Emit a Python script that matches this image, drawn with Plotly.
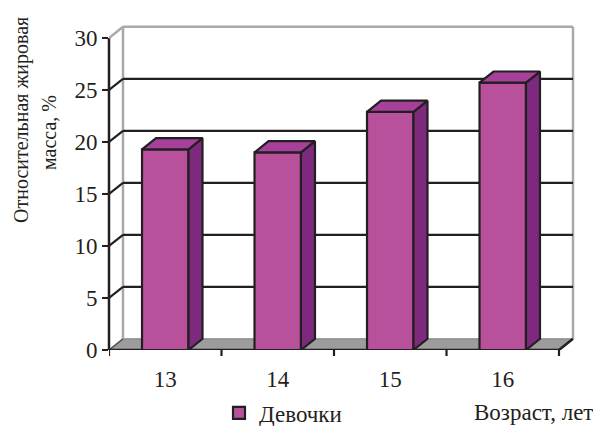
import numpy as np
import plotly.graph_objects as go

# ---------------- data ----------------
categories = ["13", "14", "15", "16"]
values = [19.3, 19.0, 22.9, 25.7]
series_name = "Девочки"
y_ticks = [0, 5, 10, 15, 20, 25, 30]
y_title_line1 = "Относительная жировая"
y_title_line2 = "масса, %"
x_title = "Возраст, лет"

# ---------------- style ----------------
W, H = 593, 426
L, R, T, B = 109, 17, 25, 76
PXU = 112.5          # pixels per category
PYU = 10.4           # pixels per value unit
DDX = 14.0 / PXU     # depth offset (x, data units)
DDY = 11.2 / PYU     # depth offset (y, data units)
BAR_W = 0.413
YMAX = max(y_ticks)

FRONT = "#B8509C"
SIDE = "#7D2A7E"
TOP = "#A6409A"
EDGE = "#231F20"
FLOOR = "#9C9C9C"
WALL = "#A7A9AC"
FONT = "'Liberation Serif', 'Times New Roman', Times, 'DejaVu Serif', serif"
FS = 23
FS_T = 20

plot_w = W - L - R
plot_h = H - T - B
x0 = -0.5
x1 = x0 + plot_w / PXU
y1 = plot_h / PYU

pos = np.arange(len(categories))
xl, xr = x0, len(categories) - 0.5


def px_to_paper(px, py):
    return (px - L) / plot_w, (H - B - py) / plot_h


fig = go.Figure()

shapes = []


def line(xa, ya, xb, yb, color, width, xref="x", yref="y"):
    shapes.append(dict(type="line", x0=xa, y0=ya, x1=xb, y1=yb, xref=xref, yref=yref,
                       line=dict(color=color, width=width), layer="below"))


# floor
shapes.append(dict(type="path", xref="x", yref="y", layer="below",
                   path=f"M{xl},0 L{xr},0 L{xr + DDX},{DDY} L{xl + DDX},{DDY} Z",
                   fillcolor=FLOOR, line=dict(color="#808080", width=1)))
# back wall border
line(xl + DDX, DDY, xl + DDX, YMAX + DDY, WALL, 2.5)
line(xl + DDX, YMAX + DDY, xr + DDX, YMAX + DDY, WALL, 2.5)
line(xr + DDX, DDY, xr + DDX, YMAX + DDY, WALL, 2.5)
line(xl, YMAX, xl + DDX, YMAX + DDY, WALL, 2.5)
# gridlines on back wall + connectors from the front axis
for v in y_ticks[1:-1]:
    line(xl + DDX, v + DDY, xr + DDX, v + DDY, EDGE, 2.2)
    line(xl, v, xl + DDX, v + DDY, EDGE, 2.2)
line(xl, 0, xl + DDX, DDY, "#555555", 1.5)
# front floor edges
line(xl, 0, xr, 0, EDGE, 2.5)
line(xr, 0, xr + DDX, DDY, EDGE, 2.5)
# front value axis
line(0, 0, 0, YMAX, EDGE, 2.5, xref="paper", yref="y")
# category boundary ticks
for b in np.arange(len(categories) + 1) - 0.5:
    line(b, 0, b, -6 / plot_h, EDGE, 2.2, xref="x", yref="paper")

# bars: front faces
fig.add_trace(go.Bar(x=pos, y=values, width=BAR_W, name=series_name,
                     marker=dict(color=FRONT, line=dict(color=EDGE, width=2.2)),
                     showlegend=True))

# side and top faces
sx, sy, tx, ty = [], [], [], []
for p, v in zip(pos, values):
    a, b = p - BAR_W / 2, p + BAR_W / 2
    sx += [b, b + DDX, b + DDX, b, b, None]
    sy += [0, DDY, v + DDY, v, 0, None]
    tx += [a, b, b + DDX, a + DDX, a, None]
    ty += [v, v, v + DDY, v + DDY, v, None]
fig.add_trace(go.Scatter(x=sx, y=sy, mode="lines", fill="toself", fillcolor=SIDE,
                         line=dict(color=EDGE, width=2.2), showlegend=False, hoverinfo="skip"))
fig.add_trace(go.Scatter(x=tx, y=ty, mode="lines", fill="toself", fillcolor=TOP,
                         line=dict(color=EDGE, width=2.2), showlegend=False, hoverinfo="skip"))

ann = []
ax, ay = px_to_paper(595, 412)
ann.append(dict(text=x_title, x=ax, y=ay, xref="paper", yref="paper", xanchor="right",
                yanchor="middle", showarrow=False, font=dict(family=FONT, size=FS, color=EDGE)))
ax, ay = px_to_paper(22, 120)
ann.append(dict(text=y_title_line1, x=ax, y=ay, xref="paper", yref="paper", textangle=-90,
                xanchor="center", yanchor="middle", showarrow=False,
                font=dict(family=FONT, size=FS_T, color=EDGE)))
ax, ay = px_to_paper(49, 133)
ann.append(dict(text=y_title_line2, x=ax, y=ay, xref="paper", yref="paper", textangle=-90,
                xanchor="center", yanchor="middle", showarrow=False,
                font=dict(family=FONT, size=FS_T, color=EDGE)))

lx, ly = px_to_paper(219, 413)

fig.update_layout(
    width=W, height=H, margin=dict(l=L, r=R, t=T, b=B, pad=0, autoexpand=False),
    paper_bgcolor="white", plot_bgcolor="white",
    font=dict(family=FONT, size=FS, color=EDGE),
    shapes=shapes, annotations=ann,
    xaxis=dict(range=[x0, x1], tickvals=pos, ticktext=categories, ticks="",
               showgrid=False, zeroline=False, showline=False, ticklabelstandoff=13,
               automargin=False,
               tickfont=dict(family=FONT, size=FS, color=EDGE), fixedrange=True),
    yaxis=dict(range=[0, y1], tickvals=y_ticks, ticks="outside", ticklen=6, tickwidth=2.2,
               tickcolor=EDGE, showgrid=False, zeroline=False, showline=False,
               automargin=False,
               tickfont=dict(family=FONT, size=FS, color=EDGE), fixedrange=True),
    legend=dict(orientation="h", x=lx, y=ly, xanchor="left", yanchor="middle",
                font=dict(family=FONT, size=FS, color=EDGE), bgcolor="rgba(0,0,0,0)"),
    showlegend=True,
)

fig.write_html("out.html")
